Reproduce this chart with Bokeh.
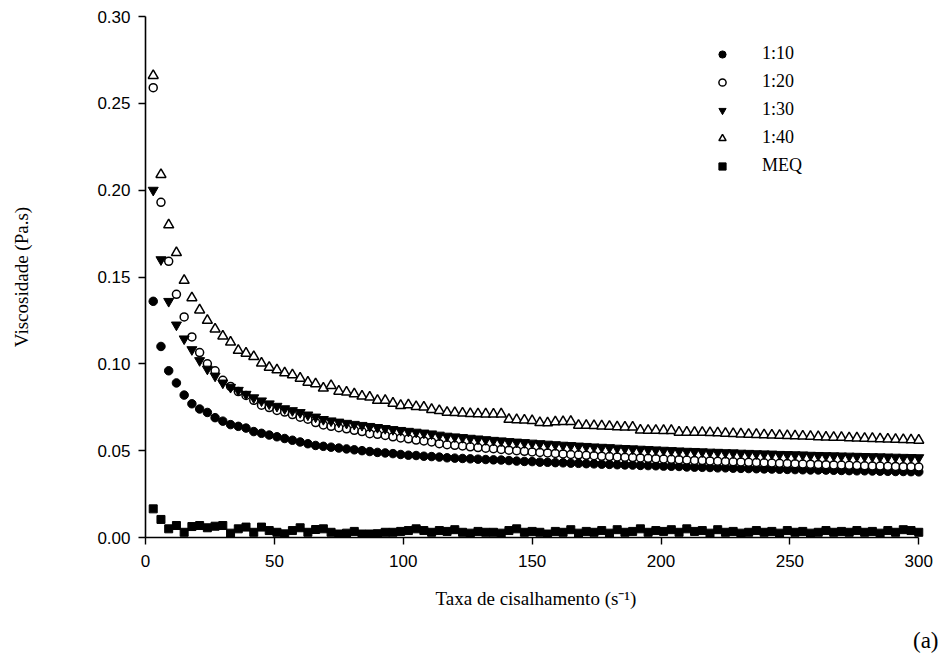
from bokeh.plotting import figure
from bokeh.models import Legend, LegendItem, Range1d, FixedTicker, NumeralTickFormatter, Title
from bokeh.embed import file_html
from bokeh.resources import INLINE

shear_rate = [3, 6, 9, 12, 15, 18, 21, 24, 27, 30, 33, 36, 39, 42, 45, 48, 51, 54, 57, 60,
              63, 66, 69, 72, 75, 78, 81, 84, 87, 90, 93, 96, 99, 102, 105, 108, 111, 114, 117, 120,
              123, 126, 129, 132, 135, 138, 141, 144, 147, 150, 153, 156, 159, 162, 165, 168, 171, 174, 177, 180,
              183, 186, 189, 192, 195, 198, 201, 204, 207, 210, 213, 216, 219, 222, 225, 228, 231, 234, 237, 240,
              243, 246, 249, 252, 255, 258, 261, 264, 267, 270, 273, 276, 279, 282, 285, 288, 291, 294, 297, 300]

visc_1_10 = [0.136, 0.110, 0.096, 0.089, 0.082, 0.077, 0.074, 0.072, 0.069, 0.067,
             0.065, 0.064, 0.063, 0.061, 0.060, 0.059, 0.058, 0.057, 0.056, 0.055,
             0.054, 0.053, 0.0525, 0.052, 0.0515, 0.051, 0.0505, 0.050, 0.0495, 0.049,
             0.0487, 0.0483, 0.0478, 0.0474, 0.0472, 0.0468, 0.0466, 0.0463, 0.0459, 0.0457,
             0.0455, 0.0453, 0.0451, 0.0449, 0.0447, 0.0446, 0.0443, 0.0440, 0.0438, 0.0437,
             0.0434, 0.0433, 0.0431, 0.0430, 0.0428, 0.0427, 0.0425, 0.0424, 0.0422, 0.0421,
             0.0419, 0.0418, 0.0417, 0.0415, 0.0414, 0.0413, 0.0411, 0.0410, 0.0409, 0.0406,
             0.0405, 0.0404, 0.0403, 0.0401, 0.0401, 0.0399, 0.0398, 0.0397, 0.0396, 0.0395,
             0.0394, 0.0393, 0.0392, 0.0391, 0.0390, 0.0389, 0.0389, 0.0388, 0.0387, 0.0386,
             0.0385, 0.0384, 0.0384, 0.0383, 0.0382, 0.0381, 0.0380, 0.0380, 0.0379, 0.0378]

visc_1_20 = [0.259, 0.193, 0.159, 0.140, 0.127, 0.1155, 0.1065, 0.100, 0.096, 0.0905,
             0.087, 0.084, 0.0818, 0.079, 0.0762, 0.0748, 0.0732, 0.0722, 0.0708, 0.0693,
             0.0681, 0.0662, 0.0648, 0.0640, 0.0632, 0.0626, 0.0617, 0.0610, 0.0598, 0.0594,
             0.0588, 0.0580, 0.0573, 0.0568, 0.0561, 0.0556, 0.0550, 0.0540, 0.0534, 0.0531,
             0.0527, 0.0522, 0.0518, 0.0514, 0.0511, 0.0507, 0.0503, 0.0500, 0.0496, 0.0493,
             0.0490, 0.0487, 0.0484, 0.0481, 0.0478, 0.0476, 0.0473, 0.0471, 0.0468, 0.0466,
             0.0464, 0.0462, 0.0460, 0.0458, 0.0456, 0.0454, 0.0452, 0.0450, 0.0448, 0.0446,
             0.0444, 0.0443, 0.0441, 0.0439, 0.0438, 0.0436, 0.0435, 0.0433, 0.0432, 0.0430,
             0.0429, 0.0427, 0.0426, 0.0425, 0.0423, 0.0422, 0.0421, 0.0419, 0.0418, 0.0417,
             0.0416, 0.0414, 0.0413, 0.0412, 0.0411, 0.0410, 0.0409, 0.0408, 0.0407, 0.0406]

visc_1_30 = [0.200, 0.160, 0.136, 0.1224, 0.1144, 0.1082, 0.1019, 0.097, 0.093, 0.089,
             0.0865, 0.0848, 0.0825, 0.0805, 0.0787, 0.0770, 0.0756, 0.0742, 0.0731, 0.0720,
             0.0706, 0.0694, 0.0680, 0.0672, 0.0665, 0.0658, 0.0652, 0.0646, 0.0640, 0.0634,
             0.0628, 0.0622, 0.0617, 0.0612, 0.0607, 0.0602, 0.0597, 0.0590, 0.0584, 0.0580,
             0.0576, 0.0572, 0.0568, 0.0564, 0.0560, 0.0557, 0.0553, 0.0550, 0.0547, 0.0544,
             0.0541, 0.0538, 0.0535, 0.0532, 0.0530, 0.0527, 0.0525, 0.0522, 0.0520, 0.0518,
             0.0515, 0.0513, 0.0511, 0.0509, 0.0507, 0.0505, 0.0503, 0.0501, 0.0499, 0.0497,
             0.0496, 0.0494, 0.0492, 0.0491, 0.0489, 0.0488, 0.0486, 0.0485, 0.0483, 0.0482,
             0.0481, 0.0479, 0.0478, 0.0477, 0.0476, 0.0474, 0.0473, 0.0472, 0.0471, 0.0470,
             0.0469, 0.0468, 0.0467, 0.0466, 0.0465, 0.0464, 0.0463, 0.0462, 0.0461, 0.0460]

visc_1_40 = [0.266, 0.209, 0.180, 0.164, 0.148, 0.138, 0.131, 0.125, 0.120, 0.116,
             0.1125, 0.1077, 0.1061, 0.1042, 0.1004, 0.0980, 0.0965, 0.0948, 0.0937, 0.0917,
             0.0894, 0.0885, 0.0860, 0.0875, 0.0842, 0.0837, 0.0827, 0.0814, 0.0808, 0.0789,
             0.0789, 0.0773, 0.0760, 0.0764, 0.0754, 0.0751, 0.0737, 0.0731, 0.0721, 0.0719,
             0.0716, 0.0713, 0.0712, 0.0711, 0.0710, 0.0711, 0.0680, 0.0678, 0.0676, 0.0673,
             0.0661, 0.0660, 0.0666, 0.0667, 0.0668, 0.0646, 0.0645, 0.0644, 0.0642, 0.0640,
             0.0637, 0.0636, 0.0635, 0.0618, 0.0617, 0.0617, 0.0616, 0.0616, 0.0606, 0.0606,
             0.0605, 0.0605, 0.0604, 0.0603, 0.0600, 0.0598, 0.0596, 0.0594, 0.0593, 0.0591,
             0.0590, 0.0588, 0.0586, 0.0585, 0.0584, 0.0582, 0.0580, 0.0578, 0.0577, 0.0576,
             0.0574, 0.0573, 0.0571, 0.0570, 0.0568, 0.0567, 0.0565, 0.0564, 0.0562, 0.0560]

visc_meq = [0.0165, 0.0104, 0.0050, 0.0069, 0.0030, 0.0063, 0.0069, 0.0056, 0.0065, 0.0069,
            0.0025, 0.0050, 0.0060, 0.0030, 0.0060, 0.0040, 0.0030, 0.0021, 0.0040, 0.0056,
            0.0030, 0.0046, 0.0050, 0.0030, 0.0020, 0.0025, 0.0035, 0.0020, 0.0020, 0.0022,
            0.0030, 0.0030, 0.0035, 0.0040, 0.0050, 0.0040, 0.0030, 0.0040, 0.0035, 0.0045,
            0.0030, 0.0025, 0.0035, 0.0030, 0.0030, 0.0025, 0.0040, 0.0050, 0.0030, 0.0035,
            0.0030, 0.0020, 0.0035, 0.0030, 0.0045, 0.0025, 0.0035, 0.0030, 0.0040, 0.0025,
            0.0045, 0.0030, 0.0035, 0.0050, 0.0030, 0.0040, 0.0035, 0.0045, 0.0030, 0.0050,
            0.0035, 0.0040, 0.0025, 0.0045, 0.0030, 0.0035, 0.0025, 0.0030, 0.0040, 0.0030,
            0.0035, 0.0025, 0.0040, 0.0030, 0.0035, 0.0025, 0.0030, 0.0040, 0.0030, 0.0035,
            0.0030, 0.0040, 0.0030, 0.0035, 0.0025, 0.0040, 0.0030, 0.0045, 0.0040, 0.0030]

series_labels = ["1:10", "1:20", "1:30", "1:40", "MEQ"]
x_ticks = [0, 50, 100, 150, 200, 250, 300]
y_ticks = [0.00, 0.05, 0.10, 0.15, 0.20, 0.25, 0.30]

SERIF = "Liberation Serif"
SANS = "Liberation Sans"

p = figure(width=943, height=671, output_backend="svg", toolbar_location=None,
           x_range=Range1d(0, 303), y_range=Range1d(0, 0.30),
           min_border_left=145, min_border_right=17, min_border_top=16, min_border_bottom=134)
p.outline_line_color = None
p.grid.visible = False
p.background_fill_color = "white"
p.border_fill_color = "white"

for ax in (p.xaxis[0], p.yaxis[0]):
    ax.axis_line_width = 1.6
    ax.axis_line_color = "black"
    ax.major_tick_line_width = 1.4
    ax.major_tick_line_color = "black"
    ax.major_tick_out = 7
    ax.major_tick_in = 0
    ax.minor_tick_line_color = None
    ax.major_label_text_font = SANS
    ax.major_label_text_font_size = "17px"
    ax.major_label_text_color = "black"
    ax.axis_label_text_font = SERIF
    ax.axis_label_text_font_style = "normal"
    ax.axis_label_text_font_size = "19px"
    ax.axis_label_text_color = "black"

p.xaxis[0].ticker = FixedTicker(ticks=x_ticks)
p.xaxis[0].bounds = (0, 300)
p.xaxis[0].major_label_standoff = 10
p.xaxis[0].axis_label = "Taxa de cisalhamento (s\u207b\u00b9)"
p.xaxis[0].axis_label_standoff = 18

p.yaxis[0].ticker = FixedTicker(ticks=y_ticks)
p.yaxis[0].formatter = NumeralTickFormatter(format="0.00")
p.yaxis[0].major_label_standoff = 8
p.yaxis[0].axis_label = "Viscosidade (Pa.s)"
p.yaxis[0].axis_label_standoff = 62

r10 = p.scatter(shear_rate, visc_1_10, marker="circle", size=8.5, fill_color="black", line_color="black")
r20 = p.scatter(shear_rate, visc_1_20, marker="circle", size=8, fill_color="white", line_color="black", line_width=1.5)
r30 = p.scatter(shear_rate, visc_1_30, marker="inverted_triangle", size=10, fill_color="black", line_color="black")
r40 = p.scatter(shear_rate, visc_1_40, marker="triangle", size=10, fill_color="white", line_color="black", line_width=1.5)
rmeq = p.scatter(shear_rate, visc_meq, marker="square", size=8, fill_color="black", line_color="black")

legend = Legend(items=[LegendItem(label=l, renderers=[r]) for l, r in
                       zip(series_labels, [r10, r20, r30, r40, rmeq])],
                location=(568, 361), orientation="vertical",
                glyph_width=18, glyph_height=18, label_standoff=31, spacing=7,
                padding=0, margin=0, border_line_color=None, background_fill_alpha=0,
                label_text_font=SERIF, label_text_font_size="18px", label_text_color="black")
p.add_layout(legend, "center")

panel_tag = Title(text="(a)", align="right", vertical_align="middle", text_font=SERIF,
                  text_font_size="23px", text_font_style="normal", text_color="black",
                  offset=-12, standoff=30)
p.add_layout(panel_tag, "below")

open("out.html", "w").write(file_html(p, INLINE))
